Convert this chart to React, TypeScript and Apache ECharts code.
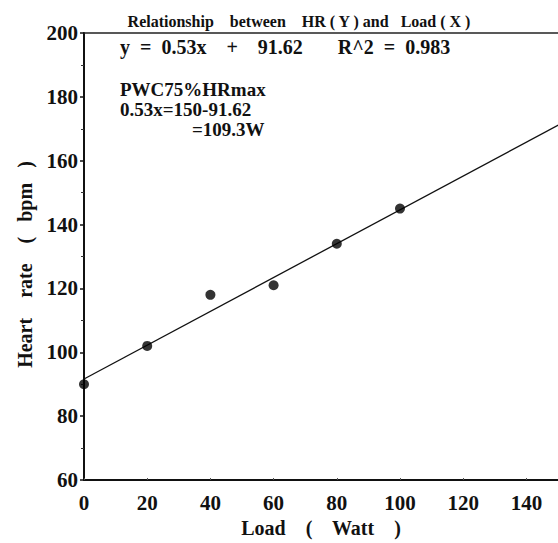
import React, { useEffect, useRef } from "react";
import * as echarts from "echarts";

const loadWatt = [0, 20, 40, 60, 80, 100];
const heartRate = [90, 102, 118, 121, 134, 145];
const slope = 0.53;
const intercept = 91.62;
const fitRange = [0, 160];
const titleText = "Relationship    between    HR ( Y ) and   Load ( X )";
const equationText = "y  =  0.53x    +    91.62       R^2  =  0.983";
const pwcLines = ["PWC75%HRmax", "0.53x=150-91.62", "=109.3W"];

const FONT = "'Liberation Serif', 'Times New Roman', serif";

export default function App() {
  const ref = useRef<HTMLDivElement>(null);
  useEffect(() => {
    if (!ref.current) return;
    const chart = echarts.init(ref.current, undefined, { renderer: "svg" });
    const fitLine = fitRange.map((x) => [x, slope * x + intercept]);
    chart.setOption({
      animation: false,
      backgroundColor: "#fff",
      title: {
        text: titleText,
        left: 294,
        top: 8,
        textAlign: "center",
        textStyle: { fontFamily: FONT, fontSize: 16, fontWeight: "bold", color: "#111" },
      },
      grid: {
        left: 84,
        top: 33,
        right: 0,
        bottom: 543 - 481,
      },
      xAxis: [
        {
          type: "value",
          min: 0,
          max: 150,
          interval: 20,
          name: "Load    (    Watt    )",
          nameLocation: "middle",
          nameGap: 38,
          nameTextStyle: {
            fontFamily: FONT,
            fontSize: 20,
            fontWeight: "bold",
            color: "#111",
          },
          axisLine: { show: true, lineStyle: { color: "#111", width: 2 } },
          axisTick: { show: true, inside: true, length: 2, lineStyle: { color: "#555" } },
          axisLabel: {
            fontFamily: FONT,
            fontSize: 21,
            fontWeight: "bold",
            color: "#111",
            margin: 12,
            showMaxLabel: false,
          },
          splitLine: { show: false },
        },
        {
          type: "value",
          position: "top",
          min: 0,
          max: 150,
          axisLine: { show: true, onZero: false, lineStyle: { color: "#222", width: 1.5 } },
          axisTick: { show: false },
          axisLabel: { show: false },
          splitLine: { show: false },
        },
      ],
      yAxis: {
        type: "value",
        min: 60,
        max: 200,
        interval: 20,
        name: "Heart    rate    (   bpm   )",
        nameLocation: "middle",
        nameGap: 49,
        nameTextStyle: {
          fontFamily: FONT,
          fontSize: 20,
          fontWeight: "bold",
          color: "#111",
          padding: [0, 16, 0, 0],
        },
        axisLine: { show: true, lineStyle: { color: "#111", width: 2 } },
        axisTick: { show: true, length: 4, lineStyle: { color: "#111", width: 1.5 } },
        minorTick: { show: true, splitNumber: 2, length: 3, lineStyle: { color: "#333" } },
        axisLabel: { fontFamily: FONT, fontSize: 21, fontWeight: "bold", color: "#111", margin: 6 },
        splitLine: { show: false },
      },
      series: [
        {
          type: "line",
          data: fitLine,
          symbol: "none",
          clip: true,
          lineStyle: { color: "#111", width: 1.3 },
          z: 2,
        },
        {
          type: "scatter",
          data: loadWatt.map((x, i) => [x, heartRate[i]]),
          symbol: "circle",
          symbolSize: 10,
          itemStyle: { color: "#000" },
          z: 3,
        },
      ],
      graphic: [
        {
          type: "text",
          left: 120,
          top: 37,
          style: { text: equationText, font: `bold 20px ${FONT}`, fill: "#111" },
        },
        {
          type: "text",
          left: 120,
          top: 80,
          style: { text: pwcLines[0], font: `bold 19px ${FONT}`, fill: "#111" },
        },
        {
          type: "text",
          left: 120,
          top: 100,
          style: { text: pwcLines[1], font: `bold 19px ${FONT}`, fill: "#111" },
        },
        {
          type: "text",
          left: 192,
          top: 120,
          style: { text: pwcLines[2], font: `bold 19px ${FONT}`, fill: "#111" },
        },
      ],
    });
    return () => chart.dispose();
  }, []);
  return <div ref={ref} style={{ width: 558, height: 543, position: "absolute", left: 0, top: 0 }} />;
}
